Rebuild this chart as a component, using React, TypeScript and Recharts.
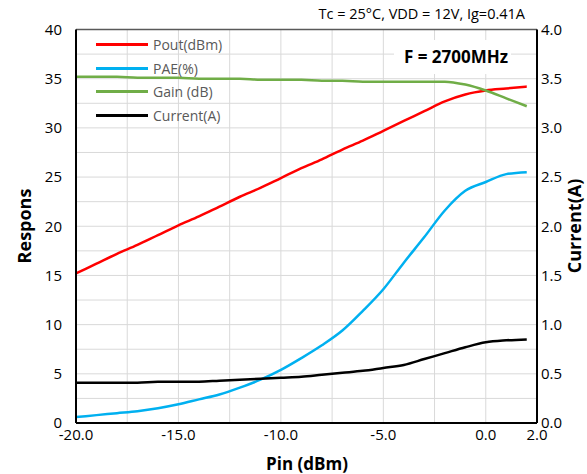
import React from "react"
import { LineChart, Line, XAxis, YAxis, ReferenceLine } from "recharts"

const pin = [-20, -19, -18, -17, -16, -15, -14, -13, -12, -11, -10, -9, -8, -7, -6, -5, -4, -3, -2, -1, 0, 1, 2]
const pout = [15.2, 16.2, 17.2, 18.1, 19.1, 20.1, 21.0, 22.0, 23.0, 23.9, 24.9, 25.9, 26.8, 27.8, 28.7, 29.7, 30.7, 31.7, 32.7, 33.4, 33.8, 34.0, 34.2]
const pae = [0.6, 0.8, 1.0, 1.2, 1.5, 1.9, 2.4, 2.9, 3.6, 4.4, 5.4, 6.6, 7.9, 9.4, 11.4, 13.6, 16.3, 18.9, 21.6, 23.6, 24.5, 25.3, 25.5]
const gain = [35.2, 35.2, 35.2, 35.1, 35.1, 35.1, 35.0, 35.0, 35.0, 34.9, 34.9, 34.9, 34.8, 34.8, 34.7, 34.7, 34.7, 34.7, 34.7, 34.4, 33.8, 33.0, 32.2]
const current = [0.41, 0.41, 0.41, 0.41, 0.42, 0.42, 0.42, 0.43, 0.44, 0.45, 0.46, 0.47, 0.49, 0.51, 0.53, 0.56, 0.59, 0.65, 0.71, 0.77, 0.82, 0.84, 0.85]

const xTicks = [-20, -17.5, -15, -12.5, -10, -7.5, -5, -2.5, 0, 2.5]
const leftTicks = [0, 2.5, 5, 7.5, 10, 12.5, 15, 17.5, 20, 22.5, 25, 27.5, 30, 32.5, 35, 37.5, 40]
const rightTicks = [0, 0.5, 1, 1.5, 2, 2.5, 3, 3.5, 4]

const series = [
  { key: "pout", name: "Pout(dBm)", color: "#ff0000", axis: "left" },
  { key: "pae", name: "PAE(%)", color: "#00b0f0", axis: "left" },
  { key: "gain", name: "Gain (dB)", color: "#70ad47", axis: "left" },
  { key: "current", name: "Current(A)", color: "#000000", axis: "right" },
]

const data = pin.map((p, i) => ({
  pin: p,
  pout: pout[i],
  pae: pae[i],
  gain: gain[i],
  current: current[i],
}))

const font = "'Open Sans', 'Noto Sans', sans-serif"
const grid = "#d9d9d9"

function LegendBox() {
  return (
    <div
      style={{
        position: "absolute",
        left: 96,
        top: 33,
        fontFamily: font,
        fontSize: 14,
        color: "#595959",
        pointerEvents: "none",
      }}
    >
      {series.map((s) => (
        <div key={s.key} style={{ display: "flex", alignItems: "center", height: 23.5 }}>
          <div style={{ width: 52, height: 3, background: s.color, marginRight: 5 }} />
          <span>{s.name}</span>
        </div>
      ))}
    </div>
  )
}

export default function App() {
  const tick = { fill: "#000", fontSize: 15, fontFamily: font }
  const title = { fontFamily: font, fontSize: 18, fontWeight: 700, fill: "#000" }
  return (
    <div style={{ position: "absolute", left: 0, top: 0, width: 587, height: 474, background: "#fff" }}>
      <LineChart
        width={587}
        height={474}
        data={data}
        margin={{ top: 29.5, right: 0, bottom: 21, left: 36 }}
      >
        {xTicks.map((t) => (
          <ReferenceLine key={"vx" + t} yAxisId="left" x={t} stroke={grid} strokeWidth={1} />
        ))}
        {leftTicks.map((t) => (
          <ReferenceLine key={"hy" + t} yAxisId="left" y={t} stroke={t === 40 ? "#595959" : grid} strokeWidth={t === 40 ? 1.5 : 1} />
        ))}
        <XAxis
          dataKey="pin"
          type="number"
          domain={[-20, 2.5]}
          ticks={xTicks}
          interval={0}
          height={30}
          tickLine={false}
          tickSize={0}
          tickMargin={6}
          axisLine={{ stroke: "#000", strokeWidth: 2 }}
          tick={tick}
          tickFormatter={(v: number) => (v === 2.5 ? "2.0" : v % 5 === 0 ? v.toFixed(1) : "")}
        />
        <YAxis
          yAxisId="left"
          domain={[0, 40]}
          ticks={leftTicks}
          interval={0}
          width={40}
          tickLine={false}
          tickSize={0}
          tickMargin={14}
          axisLine={{ stroke: "#000", strokeWidth: 2 }}
          tick={tick}
          tickFormatter={(v: number) => (v % 5 === 0 ? String(v) : "")}
        />
        <YAxis
          yAxisId="right"
          orientation="right"
          domain={[0, 4]}
          ticks={rightTicks}
          interval={0}
          width={50}
          tickLine={false}
          tickSize={0}
          tickMargin={4}
          axisLine={{ stroke: "#000", strokeWidth: 2 }}
          tick={tick}
          tickFormatter={(v: number) => v.toFixed(1)}
        />
        {series.map((s) => (
          <Line
            key={s.key}
            yAxisId={s.axis}
            dataKey={s.key}
            name={s.name}
            type="monotone"
            stroke={s.color}
            strokeWidth={2.5}
            dot={false}
            isAnimationActive={false}
          />
        ))}
        <text x={525} y={19} textAnchor="end" style={{ fontFamily: font, fontSize: 14.5, fill: "#000" }}>
          Tc = 25°C, VDD = 12V, Ig=0.41A
        </text>
        <text x={307} y={470} textAnchor="middle" style={{ ...title, fontSize: 17 }}>
          Pin (dBm)
        </text>
        <text x={31} y={226} textAnchor="middle" transform="rotate(-90 31 226)" style={title}>
          Respons
        </text>
        <text x={581} y={226} textAnchor="middle" transform="rotate(-90 581 226)" style={title}>
          Current(A)
        </text>
      </LineChart>
      <LegendBox />
      {/* text box with a white fill, as in the original sheet */}
      <div
        style={{
          position: "absolute",
          left: 394,
          top: 40,
          width: 117,
          height: 34,
          lineHeight: "34px",
          background: "#fff",
          textAlign: "right",
          paddingRight: 3,
          boxSizing: "border-box",
          fontFamily: font,
          fontSize: 17,
          fontWeight: 700,
          color: "#000",
        }}
      >
        F = 2700MHz
      </div>
    </div>
  )
}
